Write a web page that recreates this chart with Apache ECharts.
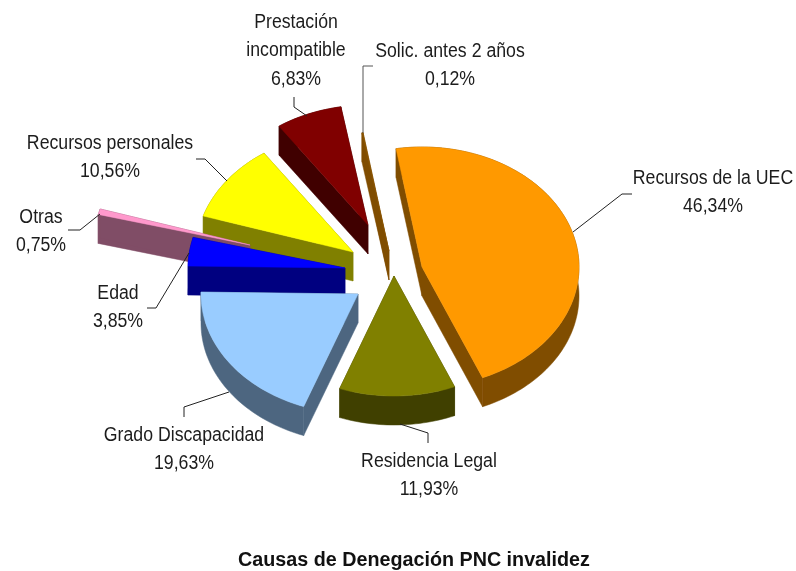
<!DOCTYPE html>
<html>
<head>
<meta charset="utf-8">
<style>html,body{margin:0;padding:0;background:#fff}#chart{width:796px;height:571px}</style>
<script src="https://cdn.jsdelivr.net/npm/echarts@6/dist/echarts.min.js"></script>
</head>
<body>
<div id="chart"></div>
<script>
// ---- data ----
var categories = ['Recursos de la UEC', 'Residencia Legal', 'Grado Discapacidad', 'Edad', 'Otras', 'Recursos personales', 'Prestación\nincompatible', 'Solic. antes 2 años'];
var shares = [46.34, 11.93, 19.63, 3.85, 0.75, 10.56, 6.83, 0.12];
var chartTitle = 'Causas de Denegación PNC invalidez';

// ---- styling / layout ----
var topColors  = ['#FF9900', '#808000', '#99CCFF', '#0000FF', '#FF99CC', '#FFFF00', '#800000', '#8A5500'];
var wallColors = ['#804D00', '#404000', '#4D6680', '#000080', '#804D66', '#808000', '#400000', '#804D00'];
var paintOrder = [8, 7, 6, 5, 4, 3, 1, 2];           // higher paints later
var pieCenter = [388, 255];
var radiusX = 157, radiusY = 120, depth = 29, startAngle = -9.5;
// explosion of each slice from the pie centre, in pixels (x, y)
var explode = [[34, 12], [6, 21], [-30, 39], [-43, 13], [-138, -10], [-35, -3], [-20, -30], [1, -4]];
var labelAnchors = [[713, 178], [429, 461], [184, 435], [118, 293], [41, 217], [110, 143], [296, 22], [450, 51]];
var leaders = [
  [[573, 232], [622, 194], [632, 194]],
  [[400, 424], [428, 433], [428, 443]],
  [[229, 392], [184, 407], [184, 417]],
  [[189, 253], [156, 308], [147, 308]],
  [[100, 214], [80, 230], [68, 230]],
  [[227, 181], [205, 159], [196, 159]],
  [[307, 116], [294, 107], [294, 97]],
  [[363, 133], [363, 66], [373, 66]]
];
var labelFont = 20, labelScale = 0.885, lineStep = 28.5, textColor = '#1c1c1c';

var total = shares.reduce(function (a, b) { return a + b; }, 0);
function pct(v) { return v.toFixed(2).replace('.', ',') + '%'; }
function dropped(p) { return [p[0], p[1] + depth]; }

function renderSlice(params, api) {
  var i = api.value(0);
  var before = 0;
  for (var k = 0; k < i; k++) before += shares[k];
  var a0 = startAngle + before / total * 360;
  var a1 = a0 + api.value(1) / total * 360;
  var apex = [pieCenter[0] + explode[i][0], pieCenter[1] + explode[i][1]];
  var rim = [];
  var steps = Math.max(2, Math.ceil((a1 - a0) / 1.5));
  for (var s = 0; s <= steps; s++) {
    var t = (a0 + (a1 - a0) * s / steps) * Math.PI / 180;
    rim.push([apex[0] + radiusX * Math.sin(t), apex[1] - radiusY * Math.cos(t)]);
  }
  var z = paintOrder[i] * 2;
  var wallStyle = { fill: wallColors[i], stroke: wallColors[i], lineWidth: 0.5 };
  var first = rim[0], last = rim[rim.length - 1];
  var walls = [
    rim.concat(rim.slice().reverse().map(dropped)),
    [apex, first, dropped(first), dropped(apex)],
    [apex, last, dropped(last), dropped(apex)]
  ];
  var children = walls.map(function (pts) {
    return { type: 'polygon', z2: z, shape: { points: pts }, style: wallStyle };
  });
  children.push({
    type: 'polygon', z2: z + 1,
    shape: { points: [apex].concat(rim) },
    style: { fill: topColors[i], stroke: topColors[i], lineWidth: 0.5 }
  });
  return { type: 'group', children: children };
}

function renderLabel(params, api) {
  var i = api.value(0);
  var lines = categories[i].split('\n').concat([pct(api.value(1))]);
  var children = [{
    type: 'polyline', z2: 60,
    shape: { points: leaders[i] },
    style: { fill: null, stroke: i === 7 ? '#555555' : '#222222', lineWidth: 1 }
  }];
  lines.forEach(function (line, n) {
    children.push({
      type: 'text', z2: 61,
      x: labelAnchors[i][0], y: labelAnchors[i][1] + n * lineStep,
      scaleX: labelScale,
      style: {
        text: line, textAlign: 'center', textVerticalAlign: 'middle',
        fontFamily: 'Liberation Sans', fontSize: labelFont, fill: textColor
      }
    });
  });
  return { type: 'group', children: children };
}

var rows = shares.map(function (v, i) { return [i, v]; });
var chart = echarts.init(document.getElementById('chart'), null, { renderer: 'canvas' });
chart.setOption({
  animation: false,
  backgroundColor: '#ffffff',
  series: [
    { type: 'custom', coordinateSystem: 'none', silent: true, renderItem: renderSlice, data: rows, z: 2 },
    { type: 'custom', coordinateSystem: 'none', silent: true, renderItem: renderLabel, data: rows, z: 3 }
  ],
  graphic: [{
    type: 'text', x: 414, y: 560, scaleX: 0.986, z: 5,
    style: {
      text: chartTitle, textAlign: 'center', textVerticalAlign: 'middle',
      fontFamily: 'Liberation Sans', fontWeight: 'bold', fontSize: 20, fill: '#111111'
    }
  }]
});
</script>
</body>
</html>
